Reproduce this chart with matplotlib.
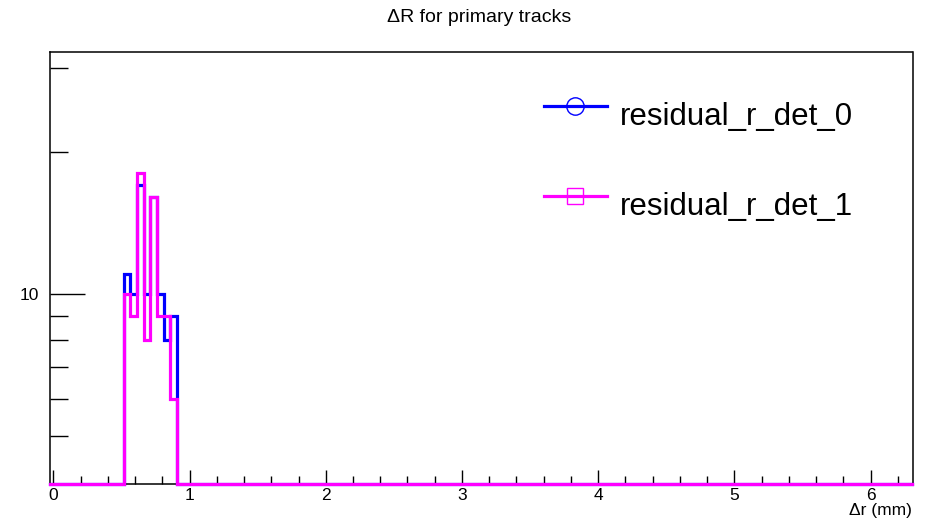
import numpy as np
import matplotlib
matplotlib.use("Agg")
import matplotlib.pyplot as plt
from matplotlib.lines import Line2D
from matplotlib.ticker import NullFormatter, FixedLocator, FixedFormatter, MultipleLocator

plt.rcParams['font.family'] = ['Liberation Sans', 'DejaVu Sans']

# ---- data ----
title = "\u0394R for primary tracks"
xlabel = "\u0394r (mm)"
series_names = ["residual_r_det_0", "residual_r_det_1"]
bin_width = 2 * np.pi / 128
x_min = -np.pi / 128
x_max = 2 * np.pi + np.pi / 128
first_bin = 11
det0_values = [11, 10, 17, 10, 16, 10, 8, 9]
det1_values = [10, 9, 18, 8, 16, 9, 9, 6]
y_min = 3.96
y_max = 32.5

edges = x_min + bin_width * np.arange(first_bin, first_bin + len(det0_values) + 1)

fig = plt.figure(figsize=(9.27, 5.24), dpi=100)
ax = fig.add_axes([50 / 927, 1 - 484 / 524, (912.5 - 50) / 927, (484 - 52) / 524])
ax.set_yscale('log')
ax.set_xlim(x_min, x_max)
ax.set_ylim(y_min, y_max)

colors = ['#0000ff', '#ff00ff']
for vals, c in zip([det0_values, det1_values], colors):
    vals = np.asarray(vals, dtype=float)
    xs = np.concatenate([[x_min], np.repeat(edges, 2), [x_max]])
    ys = np.concatenate([[y_min, y_min], np.repeat(vals, 2), [y_min, y_min]])
    ax.plot(xs, ys, color=c, lw=2.3, solid_joinstyle='miter', clip_on=False, zorder=3)

# frame
for s in ax.spines.values():
    s.set_linewidth(1.1)
    s.set_zorder(2)

# ticks: ROOT style, inside, left and bottom only
ax.xaxis.set_major_locator(MultipleLocator(1))
ax.xaxis.set_minor_locator(MultipleLocator(0.2))
ax.tick_params(axis='x', which='major', direction='in', length=10, width=1, labelsize=12.5, pad=3)
ax.tick_params(axis='x', which='minor', direction='in', length=6, width=1)
ax.yaxis.set_major_locator(FixedLocator([10]))
ax.yaxis.set_major_formatter(FixedFormatter(['10']))
ax.yaxis.set_minor_locator(FixedLocator([5, 6, 7, 8, 9, 20, 30]))
ax.yaxis.set_minor_formatter(NullFormatter())
ax.tick_params(axis='y', which='major', direction='in', length=25, width=1, labelsize=12.5, pad=8)
ax.tick_params(axis='y', which='minor', direction='in', length=13, width=1)
ax.tick_params(top=False, right=False, which='both')

fig.text(479 / 927, 1 - 17.5 / 524, title, ha='center', va='center', fontsize=14)
fig.text(912 / 927, 1 - 510 / 524, xlabel, ha='right', va='center', fontsize=12.5)

# legend (ROOT style, no box)
markers = ['o', 's']
leg_y = [106, 196]
for name, c, m, ly in zip(series_names, colors, markers, leg_y):
    yf = 1 - ly / 524
    fig.add_artist(Line2D([544 / 927, 607 / 927], [yf, yf], color=c, lw=2.3,
                          transform=fig.transFigure))
    fig.add_artist(Line2D([575 / 927], [yf], color=c, marker=m, markersize=12.5 if m == 'o' else 12,
                          markerfacecolor='none', markeredgecolor=c, markeredgewidth=1.0,
                          transform=fig.transFigure))
    fig.text(620 / 927, 1 - (ly + 11) / 524, name, ha='left', va='center', fontsize=22.5)

fig.savefig('out.png', dpi=100)
